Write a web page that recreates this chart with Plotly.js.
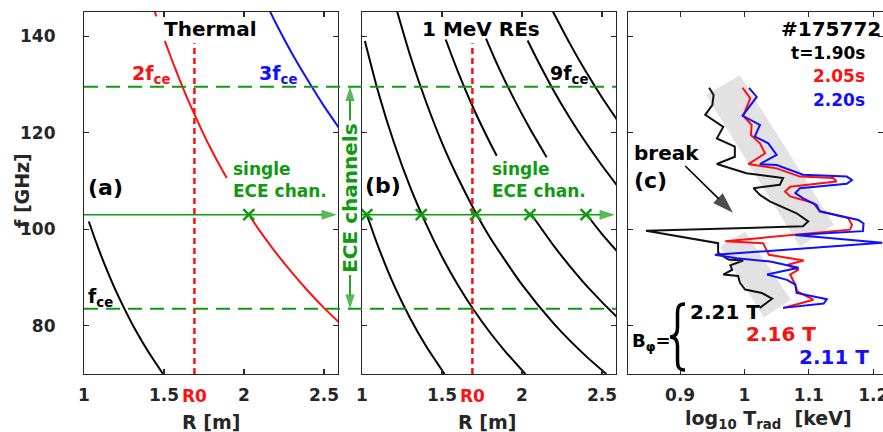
<!DOCTYPE html>
<html>
<head>
<meta charset="utf-8">
<script src="https://cdn.plot.ly/plotly-3.0.1.min.js"></script>
<style>html,body{margin:0;padding:0;background:#fff;}#chart{width:883px;height:432px;}</style>
</head>
<body>
<div id="chart"></div>
<script>
// ---------- Panel (a): thermal resonances ----------
const fceR   = [1.03, 1.08, 1.13, 1.19, 1.25, 1.32, 1.40, 1.494];
const fceF   = [101.6, 96.9, 92.6, 87.9, 83.7, 79.2, 74.7, 70.0];
const f2A_R  = [1.435, 1.452];
const f2A_F  = [145.8, 144.1];
const f2B_R  = [1.505, 1.55, 1.60, 1.65, 1.70, 1.75, 1.80, 1.85, 1.892];
const f2B_F  = [139.0, 135.0, 130.8, 126.8, 123.1, 119.5, 116.2, 113.1, 110.6];
const f2C_R  = [2.04, 2.10, 2.20, 2.30, 2.40, 2.50, 2.60];
const f2C_F  = [102.5, 99.6, 95.1, 91.0, 87.2, 83.7, 80.5];
const f3R    = [2.15, 2.20, 2.30, 2.40, 2.50, 2.60];
const f3F    = [146.0, 142.6, 136.4, 130.8, 125.5, 120.7];
const xMarkA_R = [2.03];
const xMarkA_F = [103];

// ---------- Panel (b): 1 MeV RE harmonics ----------
const h3R  = [1.03, 1.10, 1.20, 1.30, 1.40, 1.516];
const h3F  = [103.0, 96.5, 88.4, 81.6, 75.8, 70.0];
const h4R  = [1.018, 1.10, 1.20, 1.30, 1.40, 1.50, 1.60, 1.70, 1.80, 1.90, 2.021];
const h4F  = [139.0, 128.6, 117.9, 108.8, 101.1, 94.3, 88.4, 83.2, 78.6, 74.5, 70.0];
const h5R  = [1.21, 1.30, 1.40, 1.50, 1.60, 1.70, 1.80, 2.00, 2.20, 2.40, 2.527];
const h5F  = [146.2, 136.1, 126.4, 117.9, 110.6, 104.1, 98.3, 88.5, 80.4, 73.7, 70.0];
const h6uR = [1.523, 1.60, 1.70, 1.80, 1.842];
const h6uF = [139.3, 132.6, 124.8, 117.9, 115.2];
const h6lR = [2.06, 2.20, 2.30, 2.40, 2.50, 2.60];
const h6lF = [103.0, 96.5, 92.3, 88.4, 84.9, 81.6];
const h7uR = [1.775, 1.85, 1.95, 2.05, 2.154];
const h7uF = [139.5, 133.8, 127.0, 120.8, 114.9];
const h7lR = [2.40, 2.50, 2.60];
const h7lF = [103.2, 99.0, 95.2];
const h8R  = [2.035, 2.10, 2.20, 2.30, 2.40, 2.50, 2.60];
const h8F  = [139.1, 134.8, 128.6, 123.0, 117.9, 113.2, 108.8];
const h9R  = [2.19, 2.30, 2.40, 2.50, 2.60];
const h9F  = [145.3, 138.4, 132.6, 127.3, 122.4];
const xMarkB_R = [1.03, 1.37, 1.71, 2.05, 2.40];
const xMarkB_F = [103, 103, 103, 103, 103];

// shared values
const R0 = 1.69;
const r0LineF = [70, 138.5];
const eceBand = [83.5, 129.5];
const singleChanF = 103;
const singleChanR = [1.0, 2.58];

// ---------- Panel (c): log10 Trad profiles ----------
const blackT = [0.945,0.952,0.950,0.939,0.967,0.957,0.985,0.985,0.957,1.003,1.060,1.055,1.014,1.024,1.040,1.081,1.099,1.091,0.847,0.959,0.959,0.975,0.998,0.978,0.981,0.967,0.990,0.993,1.001,1.027,1.043,1.024];
const blackF = [129.3,127.8,125.7,123.7,121.2,118.8,117.1,115.0,113.5,111.6,110.6,109.2,108.5,107.1,105.7,103.3,101.6,100.6,99.7,97.1,95.1,93.7,93.5,92.5,91.6,90.6,90.3,88.9,87.5,86.8,85.6,83.7];
const redT = [0.997,1.009,0.998,1.011,1.010,1.024,1.032,1.006,1.050,1.086,1.138,1.143,1.071,1.063,1.071,1.107,1.117,1.161,1.167,1.164,0.970,1.029,1.035,1.038,1.071,1.092,1.066,1.084,1.071,1.079,1.082,1.107,1.086,1.060];
const redF = [129.3,127.1,123.5,121.6,119.5,117.8,115.7,113.5,112.6,110.9,110.6,109.9,108.8,107.8,106.8,105.4,103.7,102.3,100.9,99.9,97.5,97.1,95.5,94.7,94.0,93.5,92.6,91.6,90.6,88.5,87.1,85.4,84.6,83.7];
const blueT = [1.007,1.019,0.997,1.024,1.016,1.037,1.050,1.024,1.050,1.091,1.159,1.167,1.159,1.086,1.079,1.091,1.112,1.117,1.177,1.185,1.184,1.079,1.214,0.954,0.988,1.040,1.084,1.035,1.066,1.079,1.081,1.128,1.123,1.060];
const blueF = [129.3,127.4,123.5,121.6,119.2,117.8,115.4,113.5,113.3,111.3,110.9,110.2,109.4,108.5,107.5,106.4,105.0,103.7,101.9,101.2,99.6,98.8,97.2,94.7,94.0,93.3,92.0,90.6,89.5,88.5,86.8,85.5,84.6,83.7];
const bandUpT = [0.940, 0.993, 1.139, 1.086, 0.940];
const bandUpF = [127.8, 131.9, 100.9, 96.4, 127.8];
const bandLoT = [0.962, 1.001, 1.072, 1.030, 0.962];
const bandLoF = [96.4, 99.5, 85.4, 81.7, 96.4];
const breakT = [0.908, 0.982];
const breakF = [113.1, 103.4];

const xTicksR = [1, 1.5, 2, 2.5];
const xTicksT = [0.9, 1, 1.1, 1.2];
const yTicks  = [80, 100, 120, 140];

const GREEN = '#109a10', RED = '#ff1010', BLUE = '#1010ff', BLACK = '#000000';
const FONT = 'DejaVu Sans';
const W = 883, ML = 84, PW = W - ML, PLOT_TOP = 12, PLOT_BOT = 374;
const px2paper = px => (px - ML) / PW;
const py2paper = py => (PLOT_BOT - py) / (PLOT_BOT - PLOT_TOP);

function line(x, y, color, xa, ya) {
  return {x: x, y: y, type: 'scatter', mode: 'lines', xaxis: xa, yaxis: ya,
    line: {color: color, width: 2, shape: 'spline', smoothing: 0.6}, hoverinfo: 'skip'};
}
function jag(x, y, color) {
  return {x: x, y: y, type: 'scatter', mode: 'lines', xaxis: 'x3', yaxis: 'y3',
    line: {color: color, width: 2}, hoverinfo: 'skip'};
}
function arrow(x, y, color, xa, ya, size, width) {
  return {x: x, y: y, type: 'scatter', mode: 'lines+markers', xaxis: xa, yaxis: ya,
    line: {color: color, width: width},
    marker: {symbol: 'arrow', angleref: 'previous', size: x.map((v, i) => i === x.length - 1 ? size : 0),
             color: color, line: {width: 0}},
    hoverinfo: 'skip'};
}
const r0Dash = {color: RED, width: 2.5, dash: '6px,4px'};
const xMarker = {symbol: 'x-thin', size: 11, line: {color: GREEN, width: 2.5}};

const traces = [
  // panel (a)
  line(fceR, fceF, BLACK, 'x', 'y'),
  line(f2A_R, f2A_F, RED, 'x', 'y'),
  line(f2B_R, f2B_F, RED, 'x', 'y'),
  line(f2C_R, f2C_F, RED, 'x', 'y'),
  line(f3R, f3F, BLUE, 'x', 'y'),
  {x: [R0, R0], y: r0LineF, type: 'scatter', mode: 'lines', xaxis: 'x', yaxis: 'y', line: r0Dash, hoverinfo: 'skip'},
  arrow(singleChanR, [singleChanF, singleChanF], GREEN, 'x', 'y', 16, 1.6),
  {x: xMarkA_R, y: xMarkA_F, type: 'scatter', mode: 'markers', xaxis: 'x', yaxis: 'y', marker: xMarker, hoverinfo: 'skip'},
  // panel (b)
  line(h3R, h3F, BLACK, 'x2', 'y2'),
  line(h4R, h4F, BLACK, 'x2', 'y2'),
  line(h5R, h5F, BLACK, 'x2', 'y2'),
  line(h6uR, h6uF, BLACK, 'x2', 'y2'),
  line(h6lR, h6lF, BLACK, 'x2', 'y2'),
  line(h7uR, h7uF, BLACK, 'x2', 'y2'),
  line(h7lR, h7lF, BLACK, 'x2', 'y2'),
  line(h8R, h8F, BLACK, 'x2', 'y2'),
  line(h9R, h9F, BLACK, 'x2', 'y2'),
  {x: [R0, R0], y: r0LineF, type: 'scatter', mode: 'lines', xaxis: 'x2', yaxis: 'y2', line: r0Dash, hoverinfo: 'skip'},
  arrow(singleChanR, [singleChanF, singleChanF], GREEN, 'x2', 'y2', 16, 1.6),
  {x: xMarkB_R, y: xMarkB_F, type: 'scatter', mode: 'markers', xaxis: 'x2', yaxis: 'y2', marker: xMarker, hoverinfo: 'skip'},
  // ECE channel span arrows (between panels a and b)
  arrow([350, 350], [eceBand[1] - 7, eceBand[1]], GREEN, 'x4', 'y', 15, 1.8),
  arrow([350, 350], [eceBand[0] + 7, eceBand[0]], GREEN, 'x4', 'y', 15, 1.8),
  // panel (c)
  {x: bandUpT, y: bandUpF, type: 'scatter', mode: 'lines', fill: 'toself', fillcolor: '#e2e2e2',
   line: {width: 0, color: '#e2e2e2'}, xaxis: 'x3', yaxis: 'y3', hoverinfo: 'skip'},
  {x: bandLoT, y: bandLoF, type: 'scatter', mode: 'lines', fill: 'toself', fillcolor: '#e2e2e2',
   line: {width: 0, color: '#e2e2e2'}, xaxis: 'x3', yaxis: 'y3', hoverinfo: 'skip'},
  jag(blackT, blackF, '#111111'),
  jag(redT, redF, RED),
  jag(blueT, blueF, BLUE),
  arrow(breakT, breakF, BLACK, 'x3', 'y3', 22, 1.6)
];

const axCommon = {
  showline: true, linecolor: '#262626', linewidth: 1.3, mirror: 'ticks',
  ticks: 'inside', ticklen: 5, tickwidth: 1.2, tickcolor: '#262626',
  showgrid: false, zeroline: false, fixedrange: true,
  tickfont: {family: FONT, size: 17, color: '#262626', weight: 'bold'}
};

function xa(pxL, pxR, range, vals, anchor) {
  return Object.assign({}, axCommon, {domain: [px2paper(pxL), Math.min(1, px2paper(pxR))], range: range,
    tickmode: 'array', tickvals: vals, ticktext: vals.map(String), anchor: anchor, ticklabelstandoff: 5,
    ticklabeloverflow: 'allow'});
}
function ya(anchor, labels) {
  return Object.assign({}, axCommon, {domain: [0, 1], range: [70, 145], tickmode: 'array',
    tickvals: yTicks, ticktext: yTicks.map(v => v + '\u00a0\u00a0'), anchor: anchor, showticklabels: labels,
    ticklabelstandoff: 12});
}

function txt(text, x, y, xref, yref, opts) {
  return Object.assign({text: text, x: x, y: y, xref: xref, yref: yref, showarrow: false,
    xanchor: 'left', yanchor: 'middle',
    font: {family: FONT, size: 19, color: BLACK, weight: 'bold'}}, opts || {});
}
function fnt(size, color) { return {family: FONT, size: size, color: color, weight: 'bold'}; }

const annotations = [
  // axis titles
  txt('f [GHz]', px2paper(22), py2paper(191), 'paper', 'paper', {xanchor: 'center', textangle: -90, font: fnt(19, '#262626')}),
  txt('R [m]', px2paper(211), py2paper(422), 'paper', 'paper', {xanchor: 'center', font: fnt(19, '#262626')}),
  txt('R [m]', px2paper(487), py2paper(422), 'paper', 'paper', {xanchor: 'center', font: fnt(19, '#262626')}),
  txt('log<sub>10</sub> T<sub>rad</sub>  [keV]', px2paper(768), py2paper(419), 'paper', 'paper', {xanchor: 'center', font: fnt(19, '#262626')}),
  // panel (a)
  txt('Thermal', 1.7875, 141.4, 'x', 'y', {xanchor: 'center', font: fnt(20, BLACK)}),
  txt('2f<sub>ce</sub>', 1.29, 132.0, 'x', 'y', {font: fnt(19, RED)}),
  txt('3f<sub>ce</sub>', 2.083, 132.0, 'x', 'y', {font: fnt(19, BLUE)}),
  txt('f<sub>ce</sub>', 1.015, 85.9, 'x', 'y', {font: fnt(19, BLACK)}),
  txt('(a)', 1.01, 108.6, 'x', 'y', {font: fnt(22, BLACK)}),
  txt('single<br>ECE chan.', 1.92, 110.1, 'x', 'y', {align: 'left', font: fnt(17, GREEN)}),
  txt('R0', R0, -0.062, 'x', 'paper', {xanchor: 'center', font: fnt(17, RED)}),
  // panel (b)
  txt('1 MeV REs', 1.744, 141.4, 'x2', 'y2', {xanchor: 'center', font: fnt(20, BLACK)}),
  txt('9f<sub>ce</sub>', 2.16, 132.0, 'x2', 'y2', {font: fnt(19, BLACK)}),
  txt('3f<sub>ce</sub>', 0.995, 85.9, 'x2', 'y2', {font: fnt(19, BLACK)}),
  txt('(b)', 1.005, 109.0, 'x2', 'y2', {font: fnt(22, BLACK)}),
  txt('single<br>ECE chan.', 1.80, 110.1, 'x2', 'y2', {align: 'left', font: fnt(17, GREEN)}),
  txt('R0', R0, -0.062, 'x2', 'paper', {xanchor: 'center', font: fnt(17, RED)}),
  // ECE channels
  txt('ECE channels', px2paper(350), 106.3, 'paper', 'y', {xanchor: 'center', textangle: -90, font: fnt(20, GREEN)}),
  // panel (c)
  txt('#175772', 1, 141.4, 'paper', 'y3', {xanchor: 'right', font: fnt(20, BLACK)}),
  txt('t=1.90s', 1.19, 136.5, 'x3', 'y3', {xanchor: 'right', font: fnt(17, BLACK)}),
  txt('2.05s', 1.19, 131.7, 'x3', 'y3', {xanchor: 'right', font: fnt(17, RED)}),
  txt('2.20s', 1.19, 126.8, 'x3', 'y3', {xanchor: 'right', font: fnt(17, BLUE)}),
  txt('break', 0.825, 115.8, 'x3', 'y3', {font: fnt(20, BLACK)}),
  txt('(c)', 0.825, 110.0, 'x3', 'y3', {font: fnt(22, BLACK)}),
  txt('B<sub>φ</sub>=', 0.8225, 76.6, 'x3', 'y3', {font: fnt(18, BLACK)}),
  txt('2.21 T', 0.912, 82.8, 'x3', 'y3', {font: fnt(20, BLACK)}),
  txt('2.16 T', 0.999, 78.2, 'x3', 'y3', {font: fnt(20, RED)}),
  txt('2.11 T', 1.081, 73.6, 'x3', 'y3', {font: fnt(20, BLUE)})
];

// curly brace drawn as a path (pixel coords -> paper)
function P(px, py) { return px2paper(px).toFixed(5) + ',' + py2paper(py).toFixed(5); }
const bracePath = 'M' + P(685, 304) + ' C' + P(677, 304) + ' ' + P(677.5, 309) + ' ' + P(677.5, 317) +
  ' L' + P(677.5, 328) + ' C' + P(677.5, 334) + ' ' + P(675, 337) + ' ' + P(670, 337) +
  ' C' + P(675, 337) + ' ' + P(677.5, 340) + ' ' + P(677.5, 346) +
  ' L' + P(677.5, 357) + ' C' + P(677.5, 365) + ' ' + P(677, 370) + ' ' + P(685, 370);

const shapes = eceBand.map(f => ({type: 'line', xref: 'paper', yref: 'y', x0: px2paper(84), x1: px2paper(616),
  y0: f, y1: f, line: {color: GREEN, width: 2, dash: '14px,8px'}, layer: 'above'}));
shapes.push({type: 'path', xref: 'paper', yref: 'paper', path: bracePath,
  line: {color: BLACK, width: 3.5}, fillcolor: 'rgba(0,0,0,0)'});

const layout = {
  width: 883, height: 432,
  margin: {l: ML, r: 0, t: PLOT_TOP, b: 432 - PLOT_BOT},
  paper_bgcolor: '#ffffff', plot_bgcolor: 'rgba(0,0,0,0)',
  showlegend: false,
  xaxis:  xa(84, 338, [1, 2.5875], xTicksR, 'y'),
  yaxis:  ya('x', true),
  xaxis2: xa(362, 616, [1, 2.5875], xTicksR, 'y2'),
  yaxis2: ya('x2', false),
  xaxis3: xa(628, 883, [0.819, 1.2152], xTicksT, 'y3'),
  yaxis3: ya('x3', false),
  xaxis4: {domain: [0, 1], range: [ML, W], visible: false, anchor: 'y', fixedrange: true},
  annotations: annotations,
  shapes: shapes
};

Plotly.newPlot('chart', traces, layout, {staticPlot: true, displayModeBar: false});
</script>
</body>
</html>
